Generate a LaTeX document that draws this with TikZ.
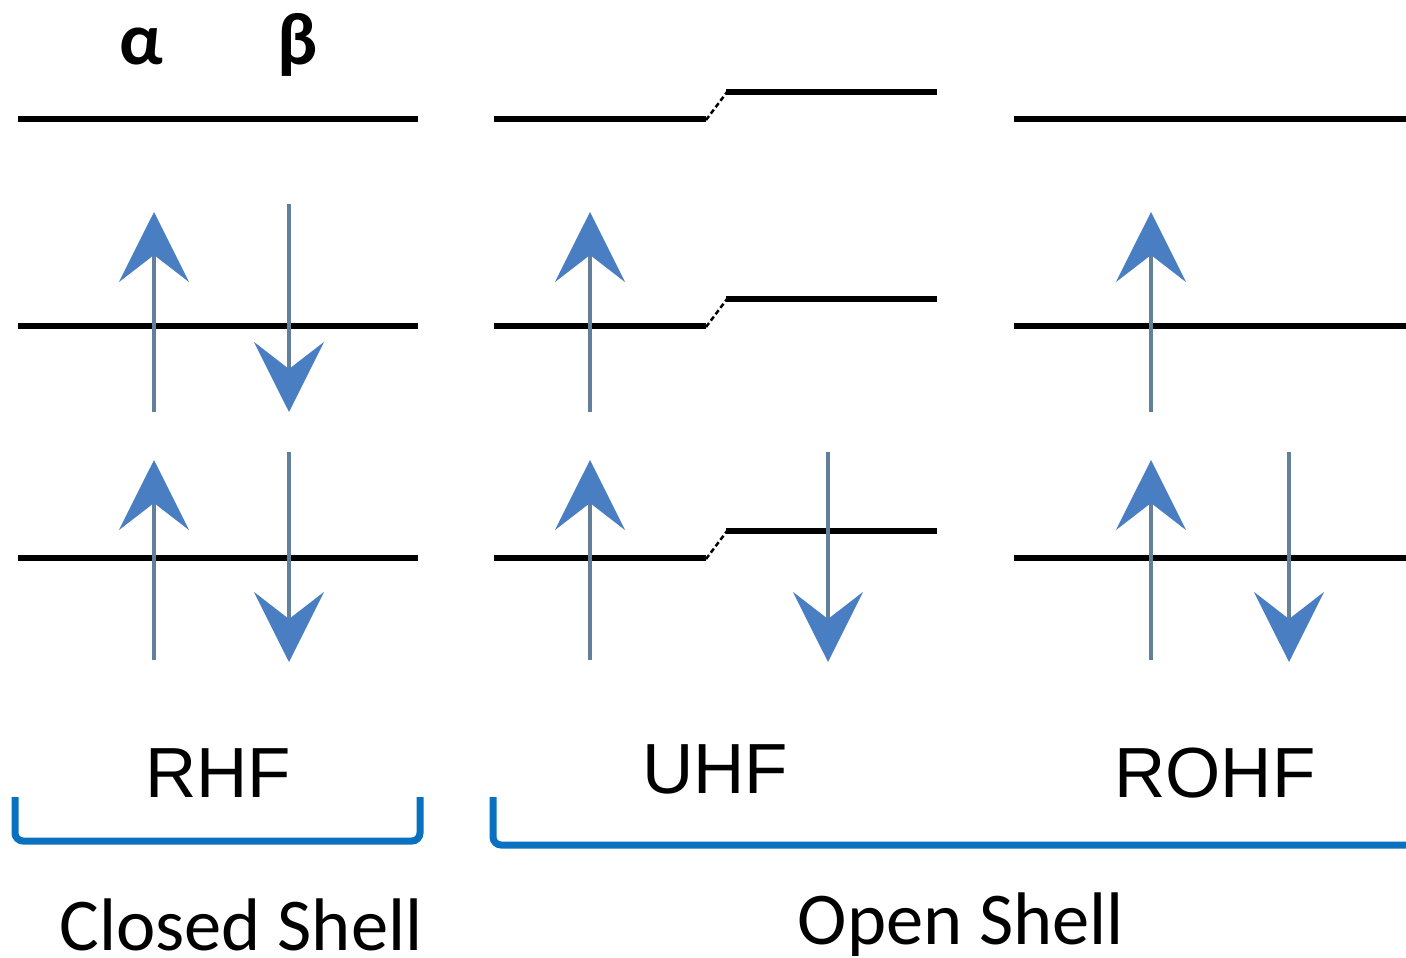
\documentclass[tikz,border=0pt]{standalone}
\usepackage{fontspec}
\setmainfont{Liberation Sans}
\newfontfamily\calibri{Carlito}
\usetikzlibrary{arrows.meta}
\definecolor{shaft}{HTML}{62809C}
\definecolor{head}{HTML}{4A7EC2}
\definecolor{brace}{HTML}{0A70C0}
\tikzset{
  level/.style={line width=6pt, black},
  spin/.style={line width=3.2pt, shaft,
    -{Stealth[length=70pt, width=70pt, inset=27pt, color=head, fill=head]}},
  shift line/.style={line width=2.5pt, dash pattern=on 5pt off 3pt},
  bracket/.style={line width=7pt, brace, rounded corners=8pt},
  method/.style={anchor=base, inner sep=0pt, font=\fontsize{71}{80}\selectfont},
  shell/.style={anchor=base, inner sep=0pt, font=\calibri\fontsize{74.5}{84}\selectfont},
  spinlabel/.style={anchor=base, inner sep=0pt, font=\calibri\bfseries\fontsize{74}{80}\selectfont}
}
\begin{document}
\begin{tikzpicture}[x=1pt, y=-1pt]
\useasboundingbox (0,0) rectangle (1406,958);

% spin labels
\node[spinlabel] (alpha) at (141,65) {α};
\node[spinlabel] (beta) at (298,65) {β};

% RHF levels
\foreach \y in {119, 326, 558} {
  \draw[level] (18,\y) -- (418,\y);
}
% UHF levels: alpha and beta orbitals split
\foreach \y in {119, 326, 558} {
  \draw[level] (494,\y) -- (706,\y);
  \draw[shift line] (706,\y+1) -- (727,\y-27);
  \draw[level] (726,\y-27) -- (937,\y-27);
}
% ROHF levels
\foreach \y in {119, 326, 558} {
  \draw[level] (1014,\y) -- (1406,\y);
}

% electrons
\foreach \x in {154, 590, 1151} {
  \draw[spin] (\x,412) -- (\x,212);
  \draw[spin] (\x,660) -- (\x,460);
}
\draw[spin] (289,204) -- (289,412);
\draw[spin] (289,452) -- (289,662);
\draw[spin] (828,452) -- (828,662);
\draw[spin] (1289,452) -- (1289,662);

% method names
\node[method] (rhf) at (218,797) {RHF};
\node[method] (uhf) at (715,793) {UHF};
\node[method] (rohf) at (1215,797) {ROHF};

% grouping brackets
\draw[bracket] (15,797) -- (15,841) -- (420,841) -- (420,797);
\draw[bracket] (493,797) -- (493,845) -- (1410,845);

\node[shell] (closed) at (241,950) {Closed Shell};
\node[shell] (open) at (961,944) {Open Shell};
\end{tikzpicture}
\end{document}
